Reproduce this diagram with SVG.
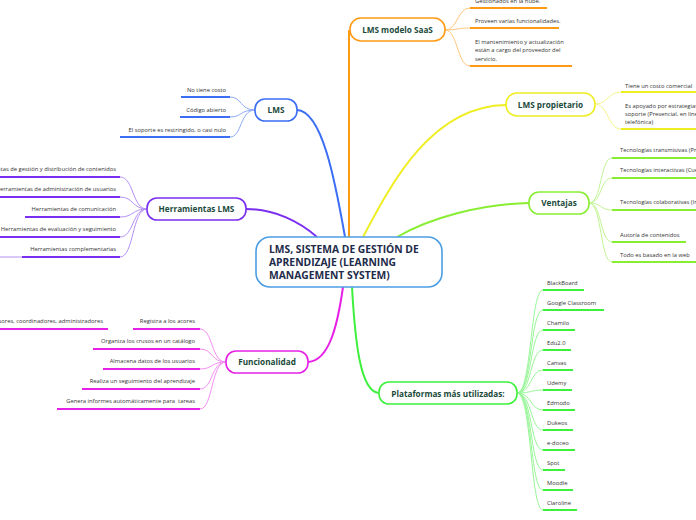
<svg xmlns="http://www.w3.org/2000/svg" width="696" height="520" viewBox="0 0 696 520">
<style>
.nd{fill:#fff;stroke-width:1.6}
.lbl{font-family:"Open Sans","Noto Sans",sans-serif;font-weight:bold;font-size:8.2px;fill:#1a4a3a;text-anchor:middle}
.ctr{font-family:"Open Sans","Noto Sans",sans-serif;font-weight:bold;font-size:10.3px;fill:#1e2b4a}
.t{font-family:"Open Sans","Noto Sans",sans-serif;font-size:5.8px;fill:#333}
.r{text-anchor:end}
.c{fill:none}
.u{fill:none;stroke-width:2}
.sub{fill:none;stroke-width:1}
.blue{stroke:#3b6ef5}.blueL{stroke:#8eaaf8}
.pur{stroke:#7a2ef0}.purL{stroke:#b590f6}
.mag{stroke:#e620e6}.magL{stroke:#f38ef3}
.ora{stroke:#ff9a14}.oraL{stroke:#ffc67a}
.yel{stroke:#eeee22}.yelL{stroke:#f4f48a}
.lgr{stroke:#88ee33}.lgrL{stroke:#c2f595}
.grn{stroke:#3ef03e}.grnL{stroke:#98f698}
</style>
<g id="connectors">
<path class="c blue" stroke-width="2" d="M345,237 C335,180 322,111 297,110"/>
<path class="c pur" stroke-width="2" d="M317,237 C300,222 275,209 246,209"/>
<path class="c mag" stroke-width="2" d="M343,287 C338,322 330,361 308,362"/>
<path class="c ora" stroke-width="2" d="M349,237 L349,30"/>
<path class="c yel" stroke-width="2" d="M363,237 C392,182 432,106 506,105"/>
<path class="c lgr" stroke-width="2" d="M397,237 C430,218 480,204 529,203"/>
<path class="c grn" stroke-width="2" d="M352,287 C355,340 360,392 379,393"/>
<g class="sub blueL">
<path d="M255,110 C240,110 242,97 230,97"/>
<path d="M255,110 C240,110 242,117 230,117"/>
<path d="M255,110 C240,110 242,137 230,137"/>
</g>
<g class="sub purL">
<path d="M147,209 C132,209 134,177 120,177"/>
<path d="M147,209 C132,209 134,197 120,197"/>
<path d="M147,209 C132,209 134,217 120,217"/>
<path d="M147,209 C132,209 134,237 120,237"/>
<path d="M147,209 C132,209 134,257 120,257"/>
</g>
<g class="sub magL">
<path d="M226,362 C211,362 213,329 200,329"/>
<path d="M226,362 C211,362 213,349 200,349"/>
<path d="M226,362 C211,362 213,369 200,369"/>
<path d="M226,362 C211,362 213,389 200,389"/>
<path d="M226,362 C211,362 213,409 200,409"/>
</g>
<g class="sub oraL">
<path d="M445,30 C458,30 457,8 470,8"/>
<path d="M445,30 C458,30 457,28 470,28"/>
<path d="M445,30 C458,30 457,66 470,66"/>
</g>
<g class="sub yelL">
<path d="M595,104 C608,104 608,92 621,92"/>
<path d="M595,104 C608,104 608,129 621,129"/>
</g>
<g class="sub lgrL">
<path d="M589,203 C602,203 600,158 612,158"/>
<path d="M589,203 C602,203 600,178 612,178"/>
<path d="M589,203 C602,203 600,210 612,210"/>
<path d="M589,203 C602,203 600,242 612,242"/>
<path d="M589,203 C602,203 600,262 612,262"/>
</g>
<g class="sub grnL">
<path d="M517,393 C532,393 530,290 543,290"/>
<path d="M517,393 C532,393 530,310 543,310"/>
<path d="M517,393 C532,393 530,330 543,330"/>
<path d="M517,393 C532,393 530,350 543,350"/>
<path d="M517,393 C532,393 530,370 543,370"/>
<path d="M517,393 C532,393 530,390 543,390"/>
<path d="M517,393 C532,393 530,410 543,410"/>
<path d="M517,393 C532,393 530,430 543,430"/>
<path d="M517,393 C532,393 530,450 543,450"/>
<path d="M517,393 C532,393 530,470 543,470"/>
<path d="M517,393 C532,393 530,490 543,490"/>
<path d="M517,393 C532,393 530,510 543,510"/>
</g>
<path class="sub purL" stroke-width="1.5" d="M0,257 L22,257"/>
</g>

<g id="center">
<rect class="nd" x="256" y="237" width="186" height="50" rx="14" stroke="#4b9de3"/>
<text class="ctr" x="269" y="252.5">LMS, SISTEMA DE GESTIÓN DE</text>
<text class="ctr" x="269" y="265.8">APRENDIZAJE (LEARNING</text>
<text class="ctr" x="269" y="279">MANAGEMENT SYSTEM)</text>
</g>

<g id="lms">
<rect class="nd blue" x="255" y="99" width="42" height="22" rx="10"/>
<text class="lbl" x="276" y="113">LMS</text>
</g>
<g id="lms-items">
<text class="t r" x="226" y="92">No tiene costo</text>
<path class="u blue" d="M181,97 H230"/>
<text class="t r" x="226" y="112">Código abierto</text>
<path class="u blue" d="M180,117 H230"/>
<text class="t r" x="226" y="132">El soporte es restringido, o casi nulo</text>
<path class="u blue" d="M120,137 H230"/>
</g>

<g id="herramientas">
<rect class="nd pur" x="147" y="198" width="99" height="22" rx="10"/>
<text class="lbl" x="196.5" y="212">Herramientas LMS</text>
</g>
<g id="herramientas-items">
<text class="t r" x="116" y="171">Herramientas de gestión y distribución de contenidos</text>
<path class="u pur" d="M0,177 H120"/>
<text class="t r" x="116" y="191">Herramientas de administración de usuarios</text>
<path class="u pur" d="M0,197 H120"/>
<text class="t r" x="116" y="211">Herramientas de comunicación</text>
<path class="u pur" d="M25,217 H120"/>
<text class="t r" x="116" y="231">Herramientas de evaluación y seguimiento</text>
<path class="u pur" d="M0,237 H120"/>
<text class="t r" x="116" y="251">Herramientas complementarias</text>
<path class="u pur" d="M22,257 H120"/>
</g>

<g id="funcionalidad">
<rect class="nd mag" x="226" y="351" width="82" height="22" rx="10"/>
<text class="lbl" x="267" y="365">Funcionalidad</text>
</g>
<g id="funcionalidad-items">
<text class="t r" x="195" y="323">Registra a los acores</text>
<path class="u mag" d="M133,329 H200"/>
<text class="t r" x="103" y="323">Alumnos, profesores, coordinadores, administradores</text>
<path class="u mag" d="M0,329 H108"/>
<text class="t r" x="195" y="343">Organiza los crusos en un catálogo</text>
<path class="u mag" d="M93,349 H200"/>
<text class="t r" x="195" y="363">Almacena datos de los usuarios</text>
<path class="u mag" d="M103,369 H200"/>
<text class="t r" x="195" y="383">Realiza un seguimiento del aprendizaje</text>
<path class="u mag" d="M82,389 H200"/>
<text class="t r" x="195" y="403">Genera informes automáticamente para&#160; tareas</text>
<path class="u mag" d="M57,409 H200"/>
</g>

<g id="saas">
<rect class="nd ora" x="350" y="18" width="95" height="23" rx="11"/>
<text class="lbl" x="397.5" y="33">LMS modelo SaaS</text>
</g>
<g id="saas-items">
<text class="t" x="475" y="3">Gestionados en la nube.</text>
<path class="u ora" d="M470,8 H547"/>
<text class="t" x="475" y="23">Proveen varias funcionalidades.</text>
<path class="u ora" d="M470,28 H559"/>
<text class="t" x="475" y="43.5">El mantenimiento y actualización</text>
<text class="t" x="475" y="52">están a cargo del proveedor del</text>
<text class="t" x="475" y="60.5">servicio.</text>
<path class="u ora" d="M470,66 H572"/>
</g>

<g id="propietario">
<rect class="nd yel" x="506" y="93" width="89" height="23" rx="11"/>
<text class="lbl" x="550.5" y="108">LMS propietario</text>
</g>
<g id="propietario-items">
<text class="t" x="625" y="88">Tiene un costo comercial</text>
<path class="u yel" d="M621,92 H696"/>
<text class="t" x="625" y="107.5">Es apoyado por estrategias de</text>
<text class="t" x="625" y="115.5">soporte (Presencial, en línea,</text>
<text class="t" x="625" y="123.5">telefónica)</text>
<path class="u yel" d="M621,129 H696"/>
</g>

<g id="ventajas">
<rect class="nd lgr" x="529" y="192" width="60" height="22" rx="10"/>
<text class="lbl" x="559" y="206">Ventajas</text>
</g>
<g id="ventajas-items">
<text class="t" x="620" y="152">Tecnologías transmisivas (Presentaciones)</text>
<path class="u lgr" d="M612,158 H696"/>
<text class="t" x="620" y="172">Tecnologías interactivas (Cuestionarios)</text>
<path class="u lgr" d="M612,178 H696"/>
<text class="t" x="620" y="204">Tecnologías colaborativas (Internet)</text>
<path class="u lgr" d="M612,210 H696"/>
<text class="t" x="620" y="236.5">Autoría de contenidos</text>
<path class="u lgr" d="M612,242 H686"/>
<text class="t" x="620" y="256.5">Todo es basado en la web</text>
<path class="u lgr" d="M612,262 H696"/>
</g>

<g id="plataformas">
<rect class="nd grn" x="379" y="382" width="138" height="22" rx="10"/>
<text class="lbl" x="448" y="396.5">Plataformas más utilizadas:</text>
</g>
<g id="plataformas-items">
<text class="t" x="547" y="285">BlackBoard</text><path class="u grn" d="M543,290 H584"/>
<text class="t" x="547" y="305">Google Classroom</text><path class="u grn" d="M543,310 H604"/>
<text class="t" x="547" y="325">Chamilo</text><path class="u grn" d="M543,330 H575"/>
<text class="t" x="547" y="345">Edu2.0</text><path class="u grn" d="M543,350 H571"/>
<text class="t" x="547" y="365">Canvas</text><path class="u grn" d="M543,370 H573"/>
<text class="t" x="547" y="385">Udemy</text><path class="u grn" d="M543,390 H572"/>
<text class="t" x="547" y="405">Edmodo</text><path class="u grn" d="M543,410 H575"/>
<text class="t" x="547" y="425">Dukeos</text><path class="u grn" d="M543,430 H573"/>
<text class="t" x="547" y="445">e-doceo</text><path class="u grn" d="M543,450 H575"/>
<text class="t" x="547" y="465">Spot</text><path class="u grn" d="M543,470 H565"/>
<text class="t" x="547" y="485">Moodle</text><path class="u grn" d="M543,490 H573"/>
<text class="t" x="547" y="505">Claroline</text><path class="u grn" d="M543,510 H577"/>
</g>
</svg>
